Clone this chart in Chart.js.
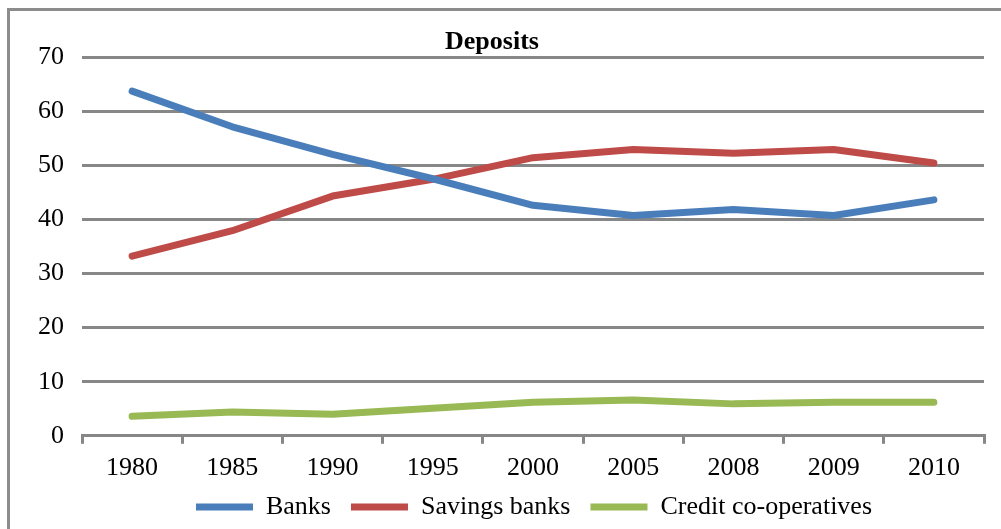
<!DOCTYPE html>
<html>
<head>
<meta charset="utf-8">
<script src="https://cdn.jsdelivr.net/npm/chart.js@4/dist/chart.umd.min.js"></script>
<style>
  html, body { margin: 0; padding: 0; background: #fff; overflow: hidden; }
  #wrap { position: relative; width: 1001px; height: 529px; }
  #frame { position: absolute; left: 7px; top: 8px; width: 1010px; height: 540px;
           border-left: 3px solid #8c8c8c; border-top: 3px solid #8c8c8c; pointer-events: none; }
  canvas { position: absolute; left: 0; top: 0; }
</style>
</head>
<body>
<div id="wrap">
  <canvas id="c" width="1001" height="529"></canvas>
  <div id="frame"></div>
</div>
<script>
const categories = ["1980", "1985", "1990", "1995", "2000", "2005", "2008", "2009", "2010"];
const banks = [63.7, 57.1, 52.0, 47.5, 42.6, 40.7, 41.8, 40.7, 43.6];
const savingsBanks = [33.2, 37.9, 44.3, 47.4, 51.4, 52.9, 52.2, 52.9, 50.4];
const creditCoops = [3.6, 4.4, 4.0, 5.1, 6.2, 6.6, 5.9, 6.2, 6.2];
const yTicks = [0, 10, 20, 30, 40, 50, 60, 70];

const FONT = "'Liberation Serif', 'Times New Roman', serif";
const GRID = "#878787";
const FS = 26;

function ds(label, data, color) {
  return {
    label, data,
    borderColor: color, backgroundColor: color,
    borderWidth: 7, borderCapStyle: 'round', borderJoinStyle: 'round',
    pointRadius: 0, pointHoverRadius: 0, tension: 0, fill: false
  };
}

const shiftLegend = {
  id: 'shiftLegend',
  afterLayout(chart) {
    const lg = chart.legend;
    if (lg) {
      lg.left += 42; lg.right += 42;
      const dy = 507 - (lg.top + 20 + FS / 2);
      lg.top += dy; lg.bottom += dy;
    }
  }
};

new Chart(document.getElementById('c'), {
  type: 'line',
  data: {
    labels: categories,
    datasets: [
      ds("Banks", banks, "#4A7EBB"),
      ds("Savings banks", savingsBanks, "#BE4B48"),
      ds("Credit co-operatives", creditCoops, "#98B954")
    ]
  },
  options: {
    responsive: false,
    animation: false,
    layout: { padding: { left: 0, right: 17, top: 0, bottom: -20 } },
    plugins: {
      title: {
        display: true, text: "Deposits", color: "#000",
        font: { family: FONT, size: FS, weight: 'bold', lineHeight: 1.0 },
        padding: { top: 29, bottom: 2 }
      },
      legend: {
        display: true, position: 'bottom',
        labels: {
          usePointStyle: true, pointStyle: 'line', pointStyleWidth: 57,
          color: "#000", padding: 20,
          font: { family: FONT, size: FS }
        }
      },
      tooltip: { enabled: false }
    },
    scales: {
      x: {
        offset: true,
        grid: { offset: true, drawOnChartArea: false, drawTicks: true, tickLength: 8, color: GRID, lineWidth: 3 },
        border: { display: true, color: GRID, width: 3 },
        ticks: { color: "#000", font: { family: FONT, size: FS, lineHeight: 1.2 }, padding: 9, maxRotation: 0, autoSkip: false }
      },
      y: {
        min: 0, max: 70,
        afterBuildTicks(scale) { scale.ticks = yTicks.map(v => ({ value: v })); },
        afterFit(scale) { scale.width = 82; },
        grid: { color: GRID, lineWidth: 3, drawTicks: false },
        border: { display: false },
        ticks: { color: "#000", font: { family: FONT, size: FS }, padding: 18 }
      }
    }
  },
  plugins: [shiftLegend]
});
</script>
</body>
</html>
